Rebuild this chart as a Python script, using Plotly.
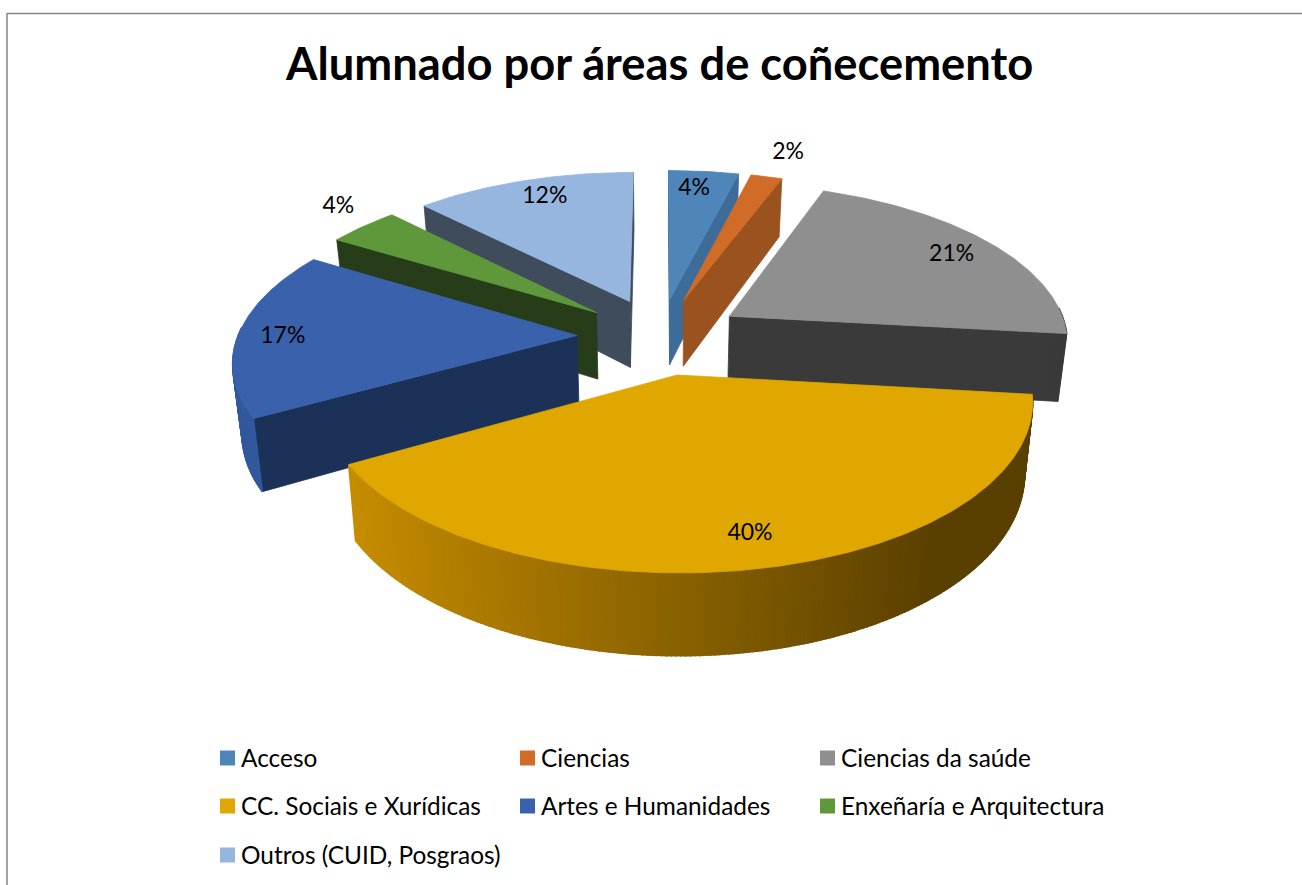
import math
import plotly.graph_objects as go

TITLE = "Alumnado por áreas de coñecemento"
CATEGORIES = ["Acceso", "Ciencias", "Ciencias da saúde", "CC. Sociais e Xurídicas",
              "Artes e Humanidades", "Enxeñaría e Arquitectura", "Outros (CUID, Posgraos)"]
VALUES = [3.9, 1.75, 21.15, 40, 16.9, 4, 12.3]
TOP_COLORS = ["#4F86BA", "#D06B28", "#8F8F8F", "#DFA700", "#3A62AC", "#5F983B", "#96B6DF"]
WALL_COLORS = ["#3E6C98", "#9A521E", "#3A3A3A", "#5A4000", "#1C3157", "#273C18", "#3E4C5C"]
DRAW_ORDER = [6, 0, 1, 5, 2, 4, 3]

CX, CY = 660, 336
RADIUS, EXPLODE = 339, 83
TILT, PERSP, DEPTH, CONVERGE = 0.463, 0.000425, 68, 0.022


def project(x, y, z=0):
    s = 1 / (1 - PERSP * y)
    return CX + s * x * (1 - CONVERGE * z / DEPTH), CY + s * TILT * y + s * z


def poly(fig, pts, color, width=0.8):
    fig.add_trace(go.Scatter(x=[p[0] for p in pts] + [pts[0][0]], y=[p[1] for p in pts] + [pts[0][1]],
                             mode="lines", fill="toself", fillcolor=color,
                             line=dict(color=color, width=width), hoverinfo="skip", showlegend=False))


def area(pts):
    return sum(pts[i][0] * pts[(i + 1) % len(pts)][1] - pts[(i + 1) % len(pts)][0] * pts[i][1]
               for i in range(len(pts))) / 2


def scale_hex(c, f):
    r, g, b = int(c[1:3], 16), int(c[3:5], 16), int(c[5:7], 16)
    return "#%02X%02X%02X" % (min(255, int(r * f)), min(255, int(g * f)), min(255, int(b * f)))


fig = go.Figure()
total = sum(VALUES)
starts = [sum(VALUES[:i]) / total * 2 * math.pi for i in range(len(VALUES))]

for i in DRAW_ORDER:
    a0 = starts[i]
    a1 = a0 + VALUES[i] / total * 2 * math.pi
    mid = (a0 + a1) / 2
    ox, oy = EXPLODE * math.sin(mid), -EXPLODE * math.cos(mid)
    n = max(4, int((a1 - a0) / 0.012))
    rim = [(ox + RADIUS * math.sin(a0 + (a1 - a0) * k / n), oy - RADIUS * math.cos(a0 + (a1 - a0) * k / n))
           for k in range(n + 1)]
    apex = (ox, oy)
    # cut faces: only those that turn towards the viewer
    for a, b in ((apex, rim[0]), (rim[-1], apex)):
        q = [project(*a), project(*b), project(*b, DEPTH), project(*a, DEPTH)]
        if area(q) < 0:
            poly(fig, q, WALL_COLORS[i])
    # outer rim, shaded by direction (lighter to the left)
    for k in range(n):
        a = a0 + (a1 - a0) * (k + .5) / n
        if math.cos(a) < 0.05:
            t = max(0.0, min(1.0, (0.65 - math.sin(a)) / 1.5))
            f = 1 + (1.2 if i == 3 else 0.8) * t
            q = [project(*rim[k]), project(*rim[k + 1]), project(*rim[k + 1], DEPTH), project(*rim[k], DEPTH)]
            poly(fig, q, scale_hex(WALL_COLORS[i], f), width=1.6)
    poly(fig, [project(*apex)] + [project(*p) for p in rim], TOP_COLORS[i])

# percentage labels, placed along each slice then nudged
LABEL_R = [0.78, 1.12, 0.82, 0.80, 0.93, 1.14, 0.72]
LABEL_NUDGE = [(-3, -8), (13, -10), (7, 0), (7, 10), (20, 4), (5, -8), (-6, -14)]
for i, v in enumerate(VALUES):
    mid = starts[i] + v / total * math.pi
    ox, oy = EXPLODE * math.sin(mid), -EXPLODE * math.cos(mid)
    x, y = project(ox + LABEL_R[i] * RADIUS * math.sin(mid), oy - LABEL_R[i] * RADIUS * math.cos(mid))
    fig.add_trace(go.Scatter(x=[x + LABEL_NUDGE[i][0]], y=[y + LABEL_NUDGE[i][1]], mode="text",
                             text=[f"{round(v)}%"], textposition="middle center",
                             textfont=dict(family="Lato", size=23, color="#000000"),
                             hoverinfo="skip", showlegend=False))

# legend grid
LEG_X = [227.5, 527.5, 827.5]
LEG_Y = [758, 806, 855]
for i, name in enumerate(CATEGORIES):
    x, y = LEG_X[i % 3], LEG_Y[i // 3]
    fig.add_trace(go.Scatter(x=[x], y=[y], mode="markers", name=name,
                             marker=dict(symbol="square", size=15, color=TOP_COLORS[i], line=dict(width=0)),
                             hoverinfo="name", showlegend=False))
    fig.add_trace(go.Scatter(x=[x + 13.5], y=[y + 3], mode="text", text=[name], textposition="middle right",
                             textfont=dict(family="Lato", size=24.4, color="#000000"),
                             hoverinfo="skip", showlegend=False))

fig.add_annotation(x=658.5, y=62, text=f"<b>{TITLE}</b>", showarrow=False, xanchor="center", yanchor="middle",
                   font=dict(family="Lato", size=45.3, color="#000000"))
fig.add_shape(type="line", x0=7, x1=1302, y0=13.5, y1=13.5, line=dict(color="#868686", width=1.5))
fig.add_shape(type="line", x0=7, x1=7, y0=13, y1=885, line=dict(color="#868686", width=1.5))

fig.update_layout(width=1302, height=885, margin=dict(l=0, r=0, t=0, b=0), showlegend=False,
                  paper_bgcolor="#FFFFFF", plot_bgcolor="#FFFFFF",
                  xaxis=dict(range=[0, 1302], visible=False, fixedrange=True),
                  yaxis=dict(range=[885, 0], visible=False, fixedrange=True))
fig.write_html("out.html", config={"displayModeBar": False},
               post_script="document.documentElement.style.margin='0';document.body.style.margin='0';"
                           "document.body.style.overflow='hidden';")
